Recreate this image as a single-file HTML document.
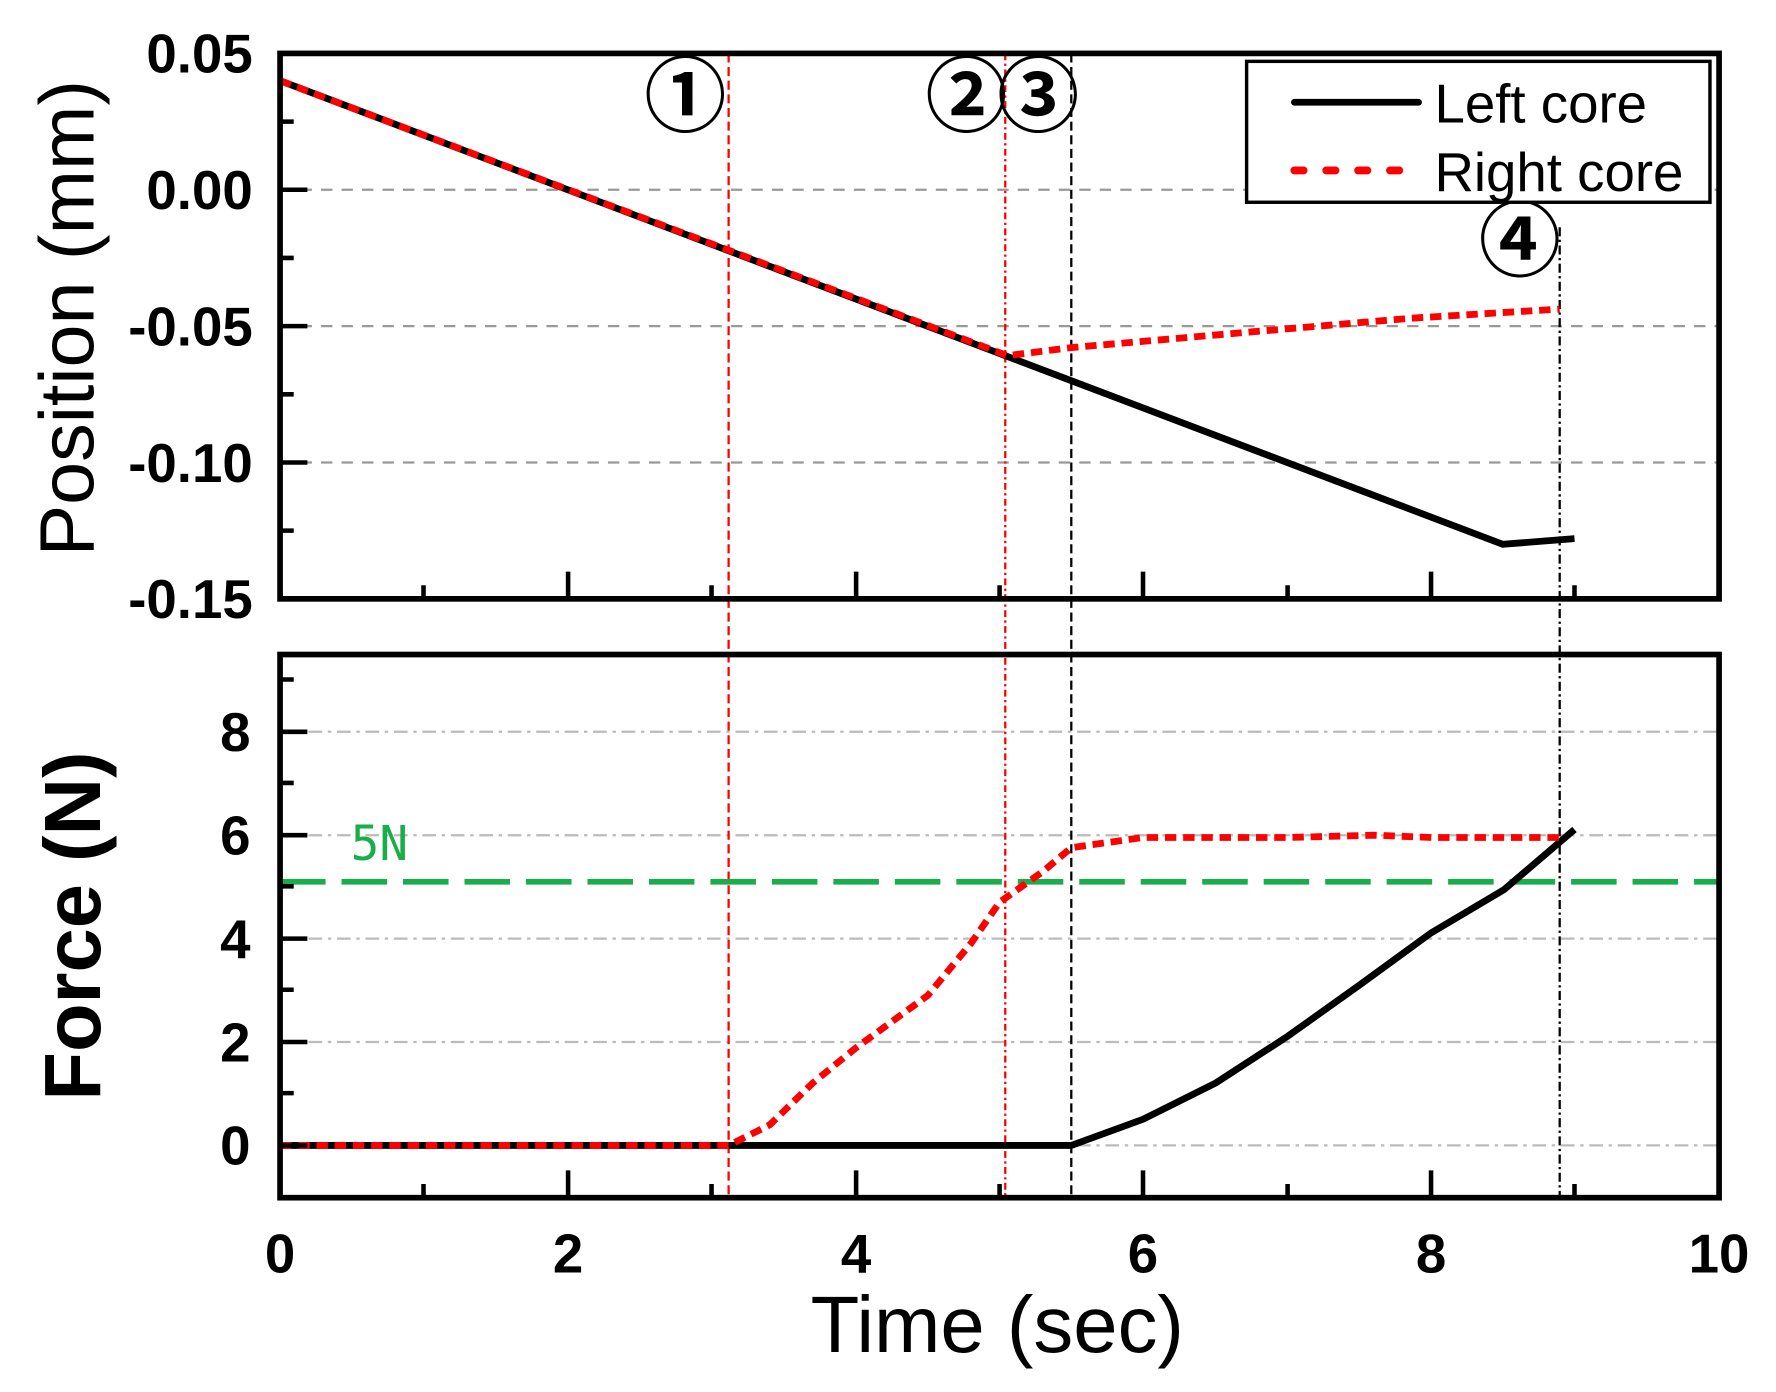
<!DOCTYPE html>
<html><head><style>body{margin:0;background:#fff}svg{display:block}</style></head><body>
<svg width="1776" height="1392" viewBox="0 0 1560 1225" preserveAspectRatio="none" xmlns="http://www.w3.org/2000/svg" font-family="Liberation Sans, sans-serif">
<rect width="1560" height="1225" fill="#fff"/>
<g stroke="#999" stroke-width="2" stroke-dasharray="10,8">
<line x1="246" y1="167" x2="1510" y2="167"/><line x1="246" y1="287" x2="1510" y2="287"/><line x1="246" y1="407" x2="1510" y2="407"/>
</g>
<g stroke="#bbb" stroke-width="2" stroke-dasharray="12,5,3,5">
<line x1="246" y1="1008" x2="1510" y2="1008"/><line x1="246" y1="917" x2="1510" y2="917"/><line x1="246" y1="826" x2="1510" y2="826"/><line x1="246" y1="735" x2="1510" y2="735"/><line x1="246" y1="644" x2="1510" y2="644"/>
</g>
<line x1="640" y1="47" x2="640" y2="1054" stroke="#f00" stroke-width="2" stroke-dasharray="8,4"/>
<line x1="883" y1="47" x2="883" y2="1054" stroke="#f00" stroke-width="2" stroke-dasharray="6,3,2,3"/>
<line x1="941" y1="47" x2="941" y2="1054" stroke="#000" stroke-width="2" stroke-dasharray="8,4"/>
<line x1="1370" y1="200" x2="1370" y2="1054" stroke="#000" stroke-width="2" stroke-dasharray="8,3,2,3"/>
<line x1="246" y1="776" x2="1510" y2="776" stroke="#1aae4a" stroke-width="5" stroke-dasharray="40,14"/>
<text x="308" y="757" font-family="DejaVu Sans Mono, monospace" font-size="42" fill="#1aae4a">5N</text>
<polyline fill="none" stroke="#000" stroke-width="6" points="246,71 1320,479 1383,474"/>
<polyline fill="none" stroke="#f00" stroke-width="6" stroke-dasharray="10,6" points="246,71 885,313 940,306 1100,292 1240,280 1370,272"/>
<polyline fill="none" stroke="#000" stroke-width="6" points="246,1008 941,1008 1004,985 1068,953 1131,912 1194,867 1257,821 1321,783 1383,730"/>
<polyline fill="none" stroke="#f00" stroke-width="6" stroke-dasharray="10,6" points="246,1008 640,1008 676,990 714,953 752,922 815,876 853,830 878,794 916,767 941,746 1004,737 1131,737 1207,735 1257,737 1370,737"/>
<rect x="246" y="47" width="1264" height="480" fill="none" stroke="#000" stroke-width="5"/>
<rect x="246" y="576" width="1264" height="478" fill="none" stroke="#000" stroke-width="5"/>
<g stroke="#000" stroke-width="4">
<path d="M372,527v-12M499,527v-24M625,527v-12M752,527v-24M878,527v-12M1004,527v-24M1131,527v-12M1257,527v-24M1383,527v-12"/>
<path d="M372,1054v-12M499,1054v-24M625,1054v-12M752,1054v-24M878,1054v-12M1004,1054v-24M1131,1054v-12M1257,1054v-24M1383,1054v-12"/>
<path d="M246,107h12M246,167h24M246,227h12M246,287h24M246,347h12M246,407h24M246,467h12"/>
<path d="M246,1008h24M246,962h12M246,917h24M246,871h12M246,826h24M246,780h12M246,735h24M246,689h12M246,644h24M246,598h12"/>
</g>
<g font-weight="bold" font-size="48" text-anchor="end">
<text x="222" y="64">0.05</text><text x="222" y="184">0.00</text><text x="222" y="304">-0.05</text><text x="222" y="424">-0.10</text><text x="222" y="544">-0.15</text>
<text x="220" y="1025">0</text><text x="220" y="934">2</text><text x="220" y="843">4</text><text x="220" y="752">6</text><text x="220" y="661">8</text>
</g>
<g font-weight="bold" font-size="48" text-anchor="middle">
<text x="246" y="1120">0</text><text x="499" y="1120">2</text><text x="752" y="1120">4</text><text x="1004" y="1120">6</text><text x="1257" y="1120">8</text><text x="1510" y="1120">10</text>
</g>
<text x="876" y="1190" font-size="70" text-anchor="middle">Time (sec)</text>
<text transform="translate(82,280) rotate(-90)" font-size="68" text-anchor="middle">Position (mm)</text>
<text transform="translate(88,815) rotate(-90)" font-size="70" font-weight="bold" text-anchor="middle">Force (N)</text>
<g font-family="Noto Sans CJK JP, DejaVu Sans, sans-serif" font-size="72" font-weight="bold" text-anchor="middle">
<text x="602" y="110">①</text><text x="849" y="110">②</text><text x="912" y="110">③</text><text x="1335" y="237">④</text>
</g>
<rect x="1095" y="54" width="407" height="124" fill="#fff" stroke="#000" stroke-width="3"/>
<line x1="1137" y1="90" x2="1246" y2="90" stroke="#000" stroke-width="6" stroke-linecap="round"/>
<line x1="1137" y1="150" x2="1246" y2="150" stroke="#f00" stroke-width="7" stroke-linecap="round" stroke-dasharray="8,20"/>
<text x="1260" y="108" font-size="48">Left core</text>
<text x="1260" y="168" font-size="48">Right core</text>
</svg>
</body></html>
